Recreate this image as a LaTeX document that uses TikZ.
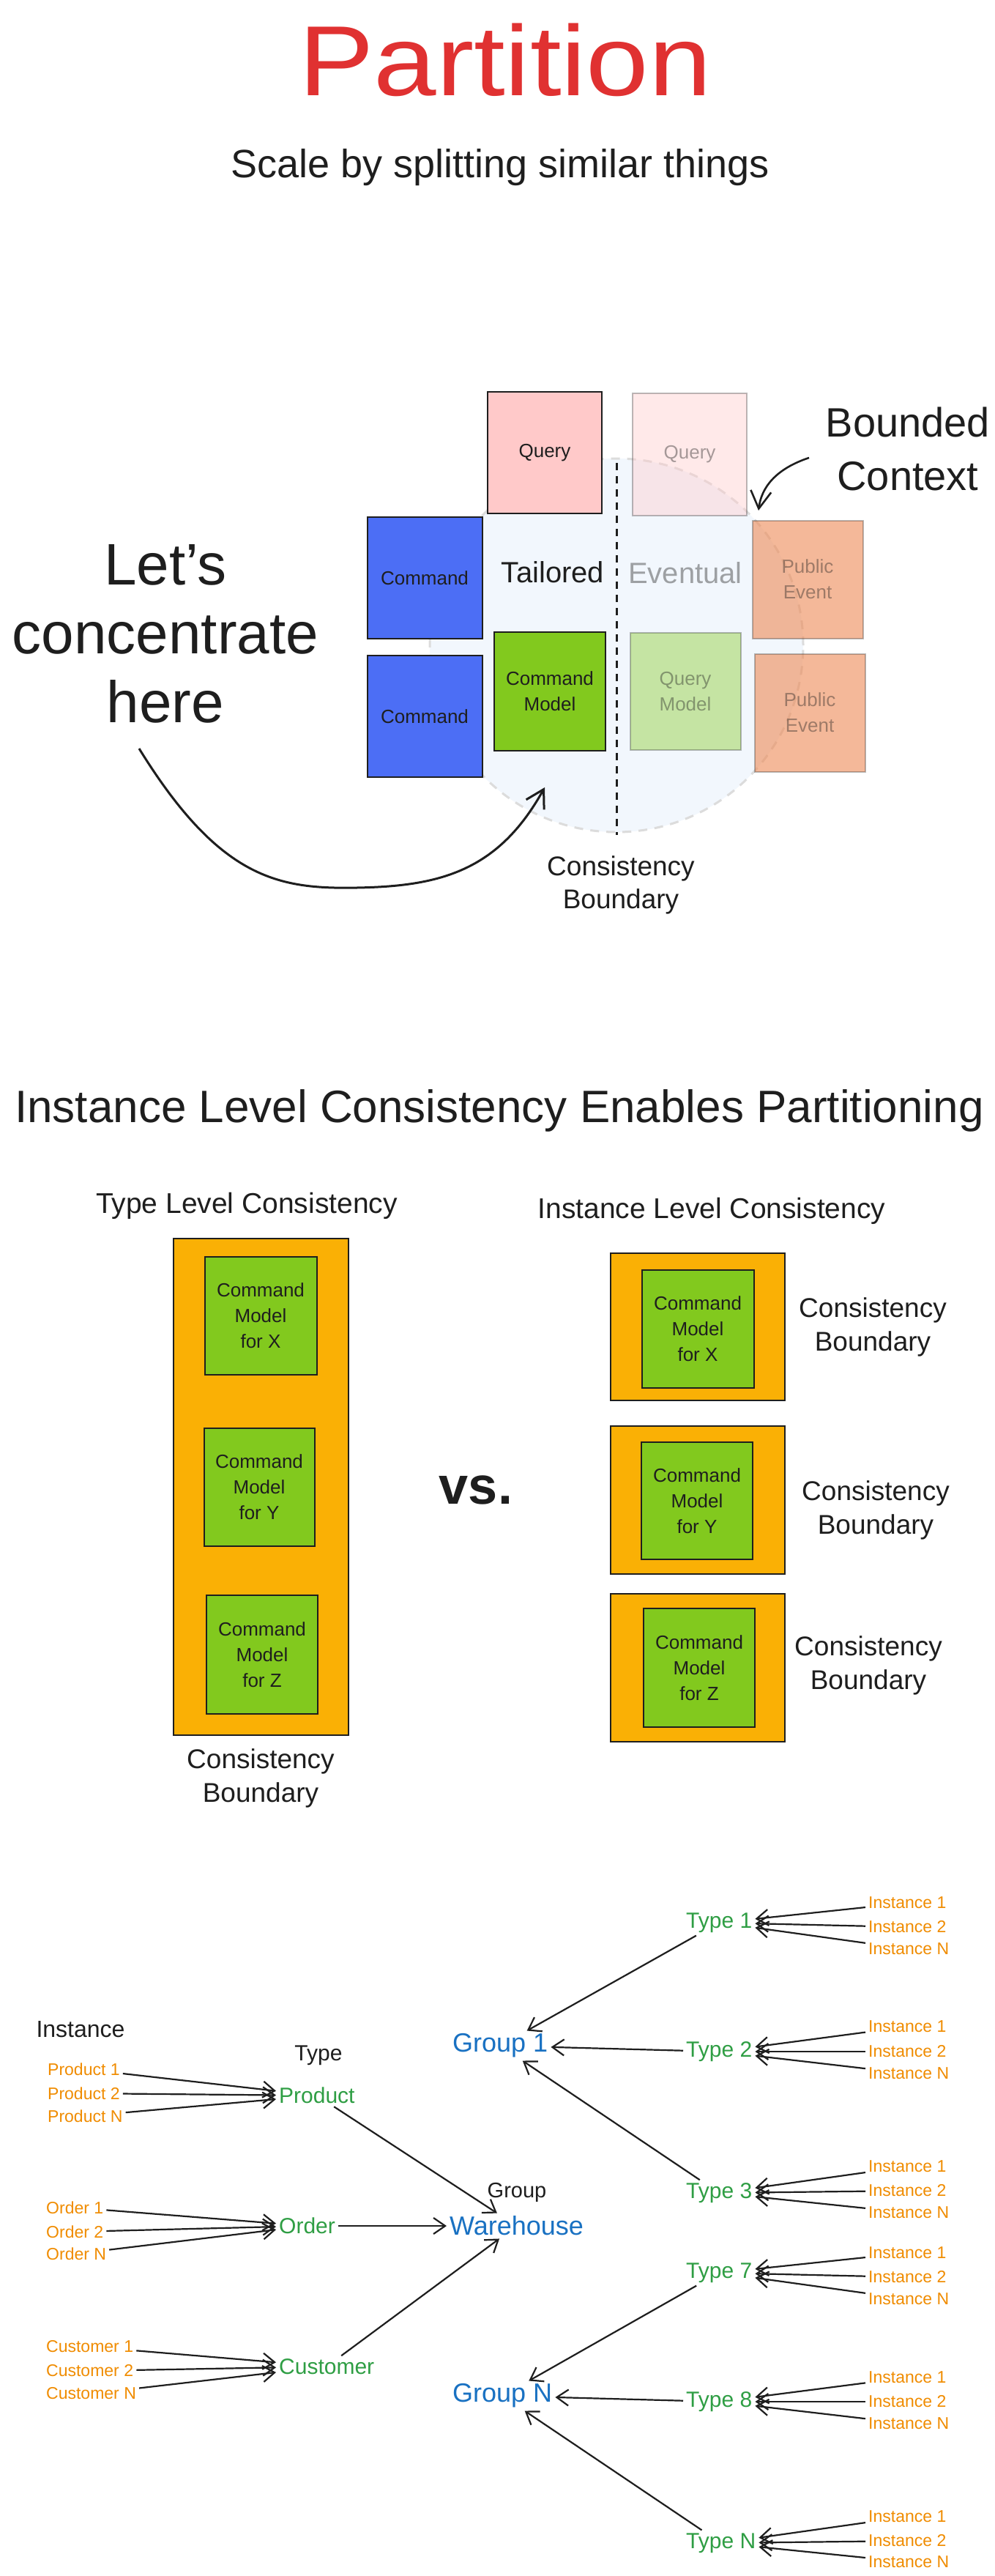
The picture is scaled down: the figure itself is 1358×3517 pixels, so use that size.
\documentclass[tikz,border=0pt]{standalone}
\usepackage{fontspec}
\setmainfont{Liberation Sans}
\newfontfamily\widefont[FakeStretch=1.13]{Liberation Sans}
\usetikzlibrary{arrows.meta}
\definecolor{ink}{HTML}{1E1E1E}
\definecolor{titlered}{HTML}{E03131}
\definecolor{qpink}{HTML}{FFC9C9}
\definecolor{cblue}{HTML}{4C6EF5}
\definecolor{cgreen}{HTML}{82C91E}
\definecolor{peorange}{HTML}{ED8A55}
\definecolor{circfill}{HTML}{F2F7FD}
\definecolor{circline}{HTML}{DCDCDC}
\definecolor{boxorange}{HTML}{FAB005}
\definecolor{tgreen}{HTML}{2F9E44}
\definecolor{tblue}{HTML}{1971C2}
\definecolor{torange}{HTML}{F08C00}
\newcommand\fsz[2]{\fontsize{#1}{#2}\selectfont}
\begin{document}
\begin{tikzpicture}[x=1pt,y=-1pt,
  txt/.style={inner sep=0pt, text=ink, align=center},
  box/.style={draw=ink, line width=2pt, inner sep=0pt, align=center, text=ink},
  fbox/.style={draw=ink, draw opacity=0.3, line width=2pt, inner sep=0pt, align=center, text=ink, text opacity=0.4},
  arr/.style={draw=ink, line width=2.2pt, -{Straight Barb[length=16pt,width=22pt]}},
  bigarr/.style={draw=ink, line width=3pt, -{Straight Barb[length=24pt,width=28pt]}},
  lbl/.style={inner sep=4pt, anchor=west},
  boxfont/.style={font=\fsz{26}{35}},
  inst/.style={lbl, text=torange, font=\fsz{23}{27}},
  typ/.style={lbl, text=tgreen, font=\fsz{30}{34}},
  grp/.style={lbl, text=tblue, font=\fsz{36}{40}},
]
\useasboundingbox[fill=white] (0,0) rectangle (1358,3517);

% ---------------- Section 1 ----------------
\node[txt, text=titlered, font=\widefont\fsz{136}{150}, anchor=base] (title) at (690,130) {Partition};
\node[txt, font=\fsz{54}{60}, anchor=base] (subtitle) at (683,242) {Scale by splitting similar things};

\node[circle, minimum size=510pt, fill=circfill, draw=circline, line width=3pt, dash pattern=on 12pt off 10pt] (cb) at (842,881) {};
\coordinate (dtop) at (842,632);
\coordinate (dbot) at (842,1140);
\draw[ink, line width=3pt, dash pattern=on 10pt off 8pt] (dtop) -- (dbot);

\node[box, fill=qpink, minimum width=156pt, minimum height=166pt, boxfont] (q1) at (744,618) {Query};
\node[fbox, fill=qpink, fill opacity=0.4, minimum width=156pt, minimum height=167pt, boxfont] (q2) at (942,620) {Query};
\node[box, fill=cblue, minimum width=157pt, minimum height=166pt, boxfont] (c1) at (580,789) {Command};
\node[box, fill=cblue, minimum width=157pt, minimum height=166pt, boxfont] (c2) at (580,978) {Command};
\node[box, fill=cgreen, minimum width=152pt, minimum height=162pt, boxfont] (cm) at (751,944) {Command\\Model};
\node[fbox, fill=cgreen, fill opacity=0.4, minimum width=151pt, minimum height=160pt, boxfont] (qm) at (936,944) {Query\\Model};
\node[fbox, fill=peorange, fill opacity=0.6, minimum width=151pt, minimum height=161pt, boxfont] (pe1) at (1103,791) {Public\\Event};
\node[fbox, fill=peorange, fill opacity=0.6, minimum width=151pt, minimum height=161pt, boxfont] (pe2) at (1106,973) {Public\\Event};

\node[txt, font=\fsz{40}{46}, anchor=base] (tail) at (755,795) {Tailored};
\node[txt, font=\fsz{40}{46}, anchor=base, text opacity=0.4] (event) at (936,796) {Eventual};

\node[txt, font=\fsz{80}{94}] (lets) at (226,865) {Let's\\concentrate\\here};
\node[txt, font=\fsz{56}{73}] (bounded) at (1240,613) {Bounded\\Context};
\node[txt, font=\fsz{37}{45}] (cbl) at (848,1208) {Consistency\\Boundary};

\coordinate (arrS) at (190,1022);
\coordinate (arrE) at (744,1075);
\draw[bigarr] (arrS) .. controls (300,1200) and (380,1214) .. (487,1212) .. controls (600,1210) and (680,1190) .. (arrE);
\coordinate (bS) at (1105,625);
\coordinate (bE) at (1036,697);
\draw[bigarr, line width=2.6pt] (bS) .. controls (1060,640) and (1040,665) .. (bE);

% ---------------- Section 2 ----------------
\node[txt, font=\fsz{62}{70}, anchor=base] (h2) at (682,1532) {Instance Level Consistency Enables Partitioning};
\node[txt, font=\fsz{39}{45}, anchor=base] (tlc) at (337,1656) {Type Level Consistency};
\node[txt, font=\fsz{39}{45}, anchor=base] (ilc) at (972,1663) {Instance Level Consistency};

\node[box, fill=boxorange, minimum width=239pt, minimum height=678pt] (tb) at (356,2030) {};
\node[box, fill=cgreen, minimum width=153pt, minimum height=161pt, boxfont] (lx) at (356,1796) {Command\\Model\\for X};
\node[box, fill=cgreen, minimum width=151pt, minimum height=161pt, boxfont] (ly) at (354,2030) {Command\\Model\\for Y};
\node[box, fill=cgreen, minimum width=152pt, minimum height=162pt, boxfont] (lz) at (358,2259) {Command\\Model\\for Z};
\node[txt, font=\fsz{37}{46}] (lcb) at (356,2428) {Consistency\\Boundary};

\node[txt, font=\bfseries\fsz{72}{80}] (vs) at (650,2034) {vs.};

\node[box, fill=boxorange, minimum width=238pt, minimum height=201pt] (rb1) at (953,1811) {};
\node[box, fill=boxorange, minimum width=238pt, minimum height=202pt] (rb2) at (953,2048) {};
\node[box, fill=boxorange, minimum width=238pt, minimum height=202pt] (rb3) at (953,2277) {};
\node[box, fill=cgreen, minimum width=153pt, minimum height=161pt, boxfont] (rx) at (953,1814) {Command\\Model\\for X};
\node[box, fill=cgreen, minimum width=152pt, minimum height=160pt, boxfont] (ry) at (952,2049) {Command\\Model\\for Y};
\node[box, fill=cgreen, minimum width=152pt, minimum height=162pt, boxfont] (rz) at (955,2277) {Command\\Model\\for Z};
\node[txt, font=\fsz{37}{46}] (rcb1) at (1192,1812) {Consistency\\Boundary};
\node[txt, font=\fsz{37}{46}] (rcb2) at (1196,2062) {Consistency\\Boundary};
\node[txt, font=\fsz{37}{46}] (rcb3) at (1186,2274) {Consistency\\Boundary};

% ---------------- Section 3 ----------------
\node[txt, font=\fsz{32}{36}] (hinst) at (110,2771) {Instance};
\node[txt, font=\fsz{30}{34}] (htype) at (435,2806) {Type};
\node[txt, font=\fsz{29}{33}] (hgroup) at (706,2993) {Group};

\node[inst] (p1) at (61,2825) {Product 1};
\node[inst] (p2) at (61,2858) {Product 2};
\node[inst] (pn) at (61,2889) {Product N};
\node[inst] (o1) at (59,3014) {Order 1};
\node[inst] (o2) at (59,3047) {Order 2};
\node[inst] (on) at (59,3077) {Order N};
\node[inst] (cu1) at (59,3204) {Customer 1};
\node[inst] (cu2) at (59,3237) {Customer 2};
\node[inst] (cun) at (59,3268) {Customer N};

\node[typ] (prod) at (377,2861) {Product};
\node[typ] (ord) at (377,3039) {Order};
\node[typ] (cust) at (377,3231) {Customer};
\node[grp] (wh) at (610,3039) {Warehouse};

\node[grp] (g1) at (614,2793) {Group 1};
\node[grp] (gn) at (614,3271) {Group N};

\node[typ] (t1) at (933,2625) {Type 1};
\node[typ] (t2) at (933,2801) {Type 2};
\node[typ] (t3) at (933,2994) {Type 3};
\node[typ] (t7) at (933,3103) {Type 7};
\node[typ] (t8) at (933,3279) {Type 8};
\node[typ] (tn) at (933,3472) {Type N};

\foreach \t/\ya/\yb/\yc in {t1/2598/2631/2661, t2/2767/2801/2831, t3/2958/2991/3021, t7/3076/3109/3139, t8/3246/3279/3309, tn/3436/3469/3498}{
  \node[inst] (\t a) at (1182,\ya) {Instance 1};
  \node[inst] (\t b) at (1182,\yb) {Instance 2};
  \node[inst] (\t c) at (1182,\yc) {Instance N};
  \draw[arr] (\t a) -- (\t);
  \draw[arr] (\t b) -- (\t);
  \draw[arr] (\t c) -- (\t);
}

\foreach \a in {p1,p2,pn} \draw[arr] (\a) -- (prod);
\foreach \a in {o1,o2,on} \draw[arr] (\a) -- (ord);
\foreach \a in {cu1,cu2,cun} \draw[arr] (\a) -- (cust);
\draw[arr] (prod) -- (wh);
\draw[arr] (ord) -- (wh);
\draw[arr] (cust) -- (wh);
\draw[arr] (t1) -- (g1);
\draw[arr] (t2) -- (g1);
\draw[arr] (t3) -- (g1);
\draw[arr] (t7) -- (gn);
\draw[arr] (t8) -- (gn);
\draw[arr] (tn) -- (gn);
\end{tikzpicture}
\end{document}
